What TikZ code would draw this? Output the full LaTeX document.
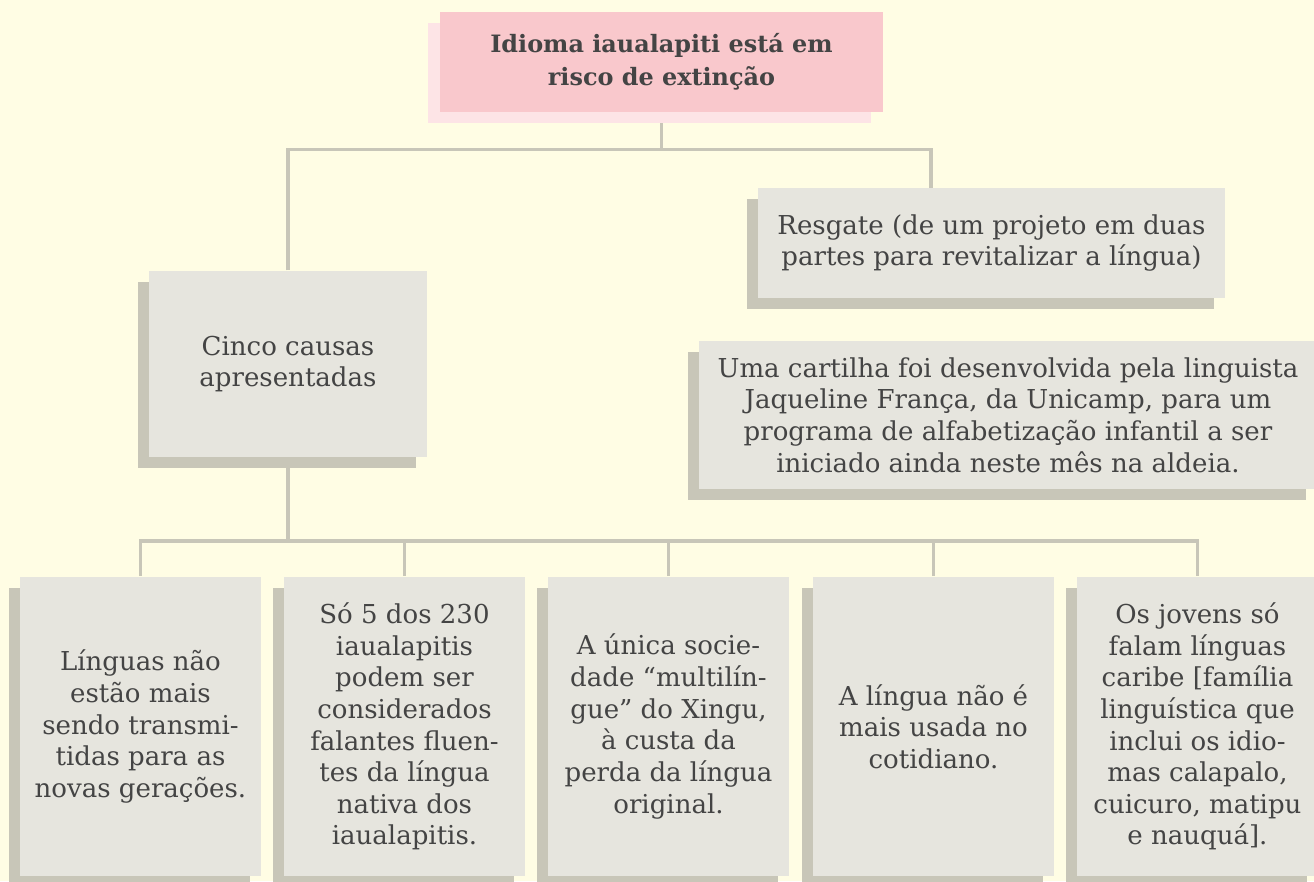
\documentclass[tikz,border=0pt]{standalone}
\usepackage{fontspec}
\setmainfont{DejaVu Serif}
\usetikzlibrary{shadows,backgrounds}

\definecolor{fundo}{HTML}{FFFDE4}
\definecolor{cinzacaixa}{HTML}{E6E5DE}
\definecolor{sombra}{HTML}{C8C6B8}
\definecolor{rosa}{HTML}{F9C8CC}
\definecolor{rosaclaro}{HTML}{FDE4E6}
\definecolor{texto}{HTML}{444444}

\begin{document}
\begin{tikzpicture}[x=0.01cm,y=-0.01cm,
    bloco/.style={text=texto, align=center, inner sep=0pt,
        font=\fontsize{7.4}{9}\selectfont},
    caixa/.style={bloco, fill=cinzacaixa,
        general shadow={fill=sombra, shadow xshift=-0.11cm, shadow yshift=-0.11cm}},
    titulo/.style={bloco, fill=rosa,
        general shadow={fill=rosaclaro, shadow xshift=-0.12cm, shadow yshift=-0.11cm}},
    causa/.style={caixa, minimum width=2.41cm, minimum height=2.99cm},
    linha/.style={draw=sombra, line width=1pt}]

\clip (0,0) rectangle (1314,881);

% Topo
\node[titulo, minimum width=4.43cm, minimum height=1cm,
    font=\bfseries\fontsize{6.8}{9.3}\selectfont] (topo) at (661.5,62)
    {Idioma iaualapiti está em\\risco de extinção};

% Segundo nivel
\node[caixa, minimum width=2.78cm, minimum height=1.86cm] (cinco) at (288,364)
    {Cinco causas\\apresentadas};
\node[caixa, minimum width=4.67cm, minimum height=1.1cm] (resgate) at (991.5,243)
    {Resgate (de um projeto em duas\\partes para revitalizar a língua)};
\node[caixa, minimum width=6.18cm, minimum height=1.48cm] (cartilha) at (1008,415)
    {Uma cartilha foi desenvolvida pela linguista\\
     Jaqueline França, da Unicamp, para um\\
     programa de alfabetização infantil a ser\\
     iniciado ainda neste mês na aldeia.};

% Causas
\node[causa] (causa1) at (140.5,726.5)
    {Línguas não\\estão mais\\sendo transmi-\\tidas para as\\novas gerações.};
\node[causa] (causa2) at (404.5,726.5)
    {Só 5 dos 230\\iaualapitis\\podem ser\\considerados\\falantes fluen-\\tes da língua\\nativa dos\\iaualapitis.};
\node[causa] (causa3) at (668.5,726.5)
    {A única socie-\\dade “multilín-\\gue” do Xingu,\\à custa da\\perda da língua\\original.};
\node[causa] (causa4) at (933.5,726.5)
    {A língua não é\\mais usada no\\cotidiano.};
\node[causa] (causa5) at (1197.5,726.5)
    {Os jovens só\\falam línguas\\caribe [família\\linguística que\\inclui os idio-\\mas calapalo,\\cuicuro, matipu\\e nauquá].};

\coordinate (entrada) at (931,188);

\begin{pgfonlayer}{background}
% Fundo
\fill[fundo] (0,0) rectangle (1314,881);

% Ligacoes
\draw[linha] (topo.south) -- ++(0,37) coordinate (ramo);
\draw[linha] (cinco.north) |- (ramo) -| (entrada);
\draw[linha] (cinco.south) -- (cinco.south |- 0,542);
\draw[linha] (causa1.north) -- ++(0,-35) -| (causa5.north);
\foreach \i in {2,3,4}{
    \draw[linha] (causa\i.north) -- ++(0,-35);
}
\end{pgfonlayer}

\end{tikzpicture}
\end{document}
